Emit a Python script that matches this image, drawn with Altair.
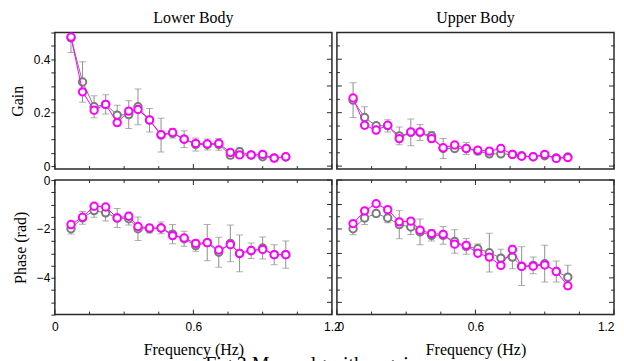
import altair as alt
import pandas as pd

# ---------------- data ----------------
freq = [0.07, 0.12, 0.17, 0.22, 0.27, 0.32, 0.36, 0.41, 0.46, 0.51,
        0.56, 0.61, 0.66, 0.71, 0.76, 0.80, 0.85, 0.90, 0.95, 1.00]

lower_gain_meas = [0.480, 0.315, 0.222, 0.231, 0.191, 0.193, 0.222, 0.172, 0.116, 0.123,
                   0.101, 0.081, 0.081, 0.081, 0.041, 0.054, 0.041, 0.035, 0.031, 0.034]
lower_gain_err = [0.055, 0.076, 0.041, 0.036, 0.037, 0.052, 0.067, 0.044, 0.063, 0.018,
                  0.031, 0.024, 0.021, 0.022, 0.012, 0.014, 0.005, 0.008, 0.004, 0.005]
lower_gain_model = [0.483, 0.278, 0.209, 0.231, 0.163, 0.206, 0.212, 0.173, 0.118, 0.126,
                    0.101, 0.085, 0.083, 0.085, 0.051, 0.042, 0.042, 0.044, 0.030, 0.035]

upper_gain_meas = [0.247, 0.182, 0.151, 0.151, 0.113, 0.126, 0.126, 0.113, 0.066, 0.066,
                   0.066, 0.056, 0.046, 0.046, 0.044, 0.039, 0.035, 0.039, 0.031, 0.034]
upper_gain_err = [0.065, 0.040, 0.010, 0.023, 0.033, 0.050, 0.030, 0.017, 0.037, 0.012,
                  0.022, 0.008, 0.008, 0.008, 0.008, 0.006, 0.004, 0.008, 0.004, 0.004]
upper_gain_model = [0.255, 0.153, 0.135, 0.153, 0.103, 0.128, 0.128, 0.103, 0.069, 0.079,
                    0.066, 0.060, 0.056, 0.066, 0.044, 0.037, 0.035, 0.044, 0.029, 0.032]

lower_phase_meas = [-1.99, -1.55, -1.25, -1.34, -1.55, -1.58, -1.99, -1.99, -1.96, -2.21,
                    -2.40, -2.68, -2.56, -2.95, -2.59, -3.00, -2.89, -2.78, -3.05, -3.05]
lower_phase_err = [0.22, 0.26, 0.27, 0.33, 0.39, 0.26, 0.48, 0.17, 0.24, 0.39,
                   0.31, 0.23, 0.74, 0.61, 0.75, 0.75, 0.32, 0.45, 0.41, 0.56]
lower_phase_model = [-1.82, -1.52, -1.07, -1.10, -1.55, -1.48, -1.90, -1.96, -1.96, -2.27,
                     -2.37, -2.59, -2.56, -2.86, -2.64, -3.00, -2.88, -2.84, -3.05, -3.05]

upper_phase_meas = [-1.99, -1.55, -1.37, -1.55, -1.82, -1.92, -2.12, -2.26, -2.26, -2.51,
                    -2.71, -2.81, -2.97, -3.19, -3.15, -3.52, -3.49, -3.42, -3.74, -3.97]
upper_phase_err = [0.25, 0.27, 0.14, 0.20, 0.58, 0.31, 0.53, 0.23, 0.36, 0.48,
                   0.32, 0.20, 0.79, 0.36, 0.48, 0.79, 0.34, 0.75, 0.43, 0.49]
upper_phase_model = [-1.78, -1.26, -0.97, -1.21, -1.71, -1.68, -2.05, -2.19, -2.22, -2.62,
                     -2.67, -2.99, -3.15, -3.49, -2.84, -3.53, -3.52, -3.47, -3.74, -4.32]

col_titles = ["Lower Body", "Upper Body"]
row_titles = ["Gain", "Phase (rad)"]
x_title = "Frequency (Hz)"
caption = "Fig 3 Mean algorithm gain"

x_ticks = [0, 0.15, 0.3, 0.45, 0.6, 0.75, 0.9, 1.05, 1.2]
x_major = [0, 0.6, 1.2]
gain_ticks = [0, 0.05, 0.1, 0.15, 0.2, 0.25, 0.3, 0.35, 0.4, 0.45, 0.5]
gain_major = [0, 0.1, 0.2, 0.3, 0.4, 0.5]
phase_ticks = [0, -0.5, -1, -1.5, -2, -2.5, -3, -3.5, -4, -4.5, -5, -5.5]
phase_major = [0, -1, -2, -3, -4, -5]

# ---------------- style ----------------
W = 278
SERIF = "Liberation Serif"
SANS = "Liberation Sans"
FRAME = "#2a2a2a"
GRAY = "#7a7a7a"
MAG = "#ff00ff"
ERR = "#8f8f8f"

x_expr = "datum.value == 0 ? '0' : datum.value == 0.6 ? '0.6' : datum.value == 1.2 ? '1.2' : ''"
gain_expr = "datum.value == 0 ? '0' : datum.value == 0.2 ? '0.2' : datum.value == 0.4 ? '0.4' : ''"
phase_expr = "datum.value == 0 ? '0' : datum.value == -2 ? '\u22122' : datum.value == -4 ? '\u22124' : ''"


def panel(meas, err, model, ydomain, H, yt, ym, label_expr, left, bottom, ytitle, ctitle):
    df = pd.DataFrame({
        "f": freq,
        "m": meas,
        "lo": [a - e for a, e in zip(meas, err)],
        "hi": [a + e for a, e in zip(meas, err)],
        "mod": model,
    })
    xs = alt.Scale(domain=[0, 1.2], nice=False, zero=False)
    ys = alt.Scale(domain=ydomain, nice=False, zero=False)

    if bottom:
        xaxis = alt.Axis(values=x_major, ticks=False, domain=False, grid=False,
                         labelFont=SANS, labelFontSize=12, labelColor="black",
                         labelPadding=7, labelFlush=(not left), labelOverlap=False,
                         labelExpr=x_expr, title=x_title, titleFont=SERIF, titleFontSize=16,
                         titleFontWeight="normal", titleColor="black", titlePadding=9)
    else:
        xaxis = None
    if left:
        yaxis = alt.Axis(values=yt, tickSize=4, tickColor=FRAME, tickWidth=1,
                         domain=False, grid=False, labelExpr=label_expr,
                         labelFont=SANS, labelFontSize=12, labelColor="black",
                         labelPadding=1, title=ytitle, titleFont=SERIF,
                         titleFontSize=16, titleFontWeight="normal",
                         titleColor="black", titlePadding=8)
    else:
        yaxis = None

    base = alt.Chart(df)
    X = alt.X("f:Q", scale=xs, axis=xaxis)
    errbar = base.mark_errorbar(ticks=True, size=7, thickness=1, color=ERR, clip=True).encode(
        x=X, y=alt.Y("lo:Q", scale=ys, axis=yaxis), y2="hi:Q")
    gline = base.mark_line(color=GRAY, strokeWidth=1, clip=True).encode(
        x=X, y=alt.Y("m:Q", scale=ys, axis=yaxis))
    gpts = base.mark_point(filled=True, fill="white", stroke=GRAY, strokeWidth=2,
                           size=55, opacity=1, clip=True).encode(
        x=X, y=alt.Y("m:Q", scale=ys, axis=yaxis))
    mline = base.mark_line(color=MAG, strokeWidth=1, clip=True).encode(
        x=X, y=alt.Y("mod:Q", scale=ys, axis=yaxis))
    mpts = base.mark_point(filled=True, fill="white", stroke=MAG, strokeWidth=2,
                           size=55, opacity=1, clip=True).encode(
        x=X, y=alt.Y("mod:Q", scale=ys, axis=yaxis))

    layers = [errbar, gline, gpts, mline, mpts]

    # inward tick marks drawn through the shared scales
    def xrule(vals, y0, y1):
        return alt.Chart(pd.DataFrame({"f": vals})).mark_rule(color=FRAME, strokeWidth=1).encode(
            x=alt.X("f:Q", scale=xs, axis=xaxis), y=alt.value(y0), y2=alt.value(y1))

    def yrule(vals, x0, x1):
        return alt.Chart(pd.DataFrame({"m": vals})).mark_rule(color=FRAME, strokeWidth=1).encode(
            y=alt.Y("m:Q", scale=ys, axis=yaxis), x=alt.value(x0), x2=alt.value(x1))

    xminor = [v for v in x_ticks if v not in x_major]
    yminor = [v for v in yt if v not in ym]
    layers += [xrule(x_major, H, H - 5), xrule(xminor, H, H - 3)]
    if not ctitle:
        layers += [xrule(x_major, 0, 5), xrule(xminor, 0, 3)]
    layers += [yrule(ym, W, W - 5), yrule(yminor, W, W - 3)]
    if not left:
        layers += [yrule(ym, 0, 5), yrule(yminor, 0, 3)]

    ch = alt.layer(*layers).properties(width=W, height=H)
    if ctitle:
        ch = ch.properties(title=alt.TitleParams(ctitle, font=SERIF, fontSize=16,
                                                 fontWeight="normal", color="black",
                                                 offset=6))
    return ch


GD = [-0.011, 0.5]
PD = [-5.5, 0]

a = panel(lower_gain_meas, lower_gain_err, lower_gain_model, GD, 137, gain_ticks, gain_major,
          gain_expr, True, False, row_titles[0], col_titles[0])
b = panel(upper_gain_meas, upper_gain_err, upper_gain_model, GD, 137, gain_ticks, gain_major,
          gain_expr, False, False, row_titles[0], col_titles[1])
c = panel(lower_phase_meas, lower_phase_err, lower_phase_model, PD, 135, phase_ticks, phase_major,
          phase_expr, True, True, row_titles[1], None)
d = panel(upper_phase_meas, upper_phase_err, upper_phase_model, PD, 135, phase_ticks, phase_major,
          phase_expr, False, True, row_titles[1], None)

chart = alt.concat(a, b, c, d, columns=2, spacing={"row": 11, "column": 5}, bounds="flush").properties(
    padding=0,
    background="white",
    title=alt.TitleParams(caption, orient="bottom", font=SERIF, fontSize=20,
                          fontWeight="normal", color="black", offset=-3, anchor="middle"),
).configure_view(stroke=FRAME, strokeWidth=1.5)

chart.save("out.html", embed_options={"renderer": "svg", "actions": False})
